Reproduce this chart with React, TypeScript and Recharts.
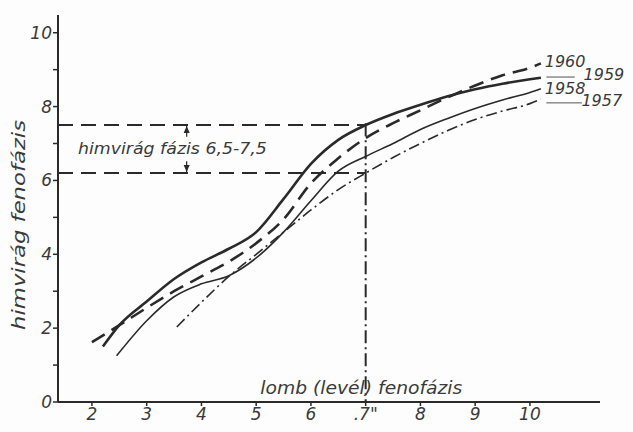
import React from 'react'
import { LineChart, Line, XAxis, YAxis, ReferenceLine, ReferenceDot } from 'recharts'

// tick values
const xTicks = [2, 3, 4, 5, 6, 7, 8, 9, 10]
const yTicks = [0, 1, 2, 3, 4, 5, 6, 7, 8, 9, 10]

// lomb (levél) fenofázis -> himvirág fenofázis, per year
const x1960 = [2.0, 2.5, 3.0, 3.5, 4.0, 4.5, 5.0, 5.5, 6.0, 6.5, 7.0, 7.5, 8.0, 8.5, 9.0, 9.5, 10.0, 10.2]
const y1960 = [1.62, 2.08, 2.55, 3.0, 3.4, 3.8, 4.3, 4.95, 5.92, 6.6, 7.15, 7.55, 7.9, 8.25, 8.57, 8.85, 9.05, 9.17]

const x1959 = [2.2, 2.5, 3.0, 3.5, 4.0, 4.5, 5.0, 5.5, 6.0, 6.5, 7.0, 7.5, 8.0, 8.5, 9.0, 9.5, 10.0, 10.2]
const y1959 = [1.5, 2.08, 2.72, 3.33, 3.78, 4.15, 4.6, 5.5, 6.45, 7.1, 7.5, 7.8, 8.05, 8.28, 8.47, 8.62, 8.74, 8.78]

const x1958 = [2.45, 3.0, 3.5, 4.0, 4.5, 5.0, 5.5, 6.0, 6.5, 7.0, 7.5, 8.0, 8.5, 9.0, 9.5, 10.0, 10.2]
const y1958 = [1.25, 2.2, 2.85, 3.2, 3.42, 3.9, 4.6, 5.45, 6.25, 6.65, 7.0, 7.38, 7.68, 7.95, 8.18, 8.38, 8.48]

const x1957 = [3.55, 4.0, 4.5, 5.0, 5.5, 6.0, 6.5, 7.0, 7.5, 8.0, 8.5, 9.0, 9.5, 10.0, 10.2]
const y1957 = [2.03, 2.7, 3.4, 4.0, 4.6, 5.2, 5.75, 6.2, 6.62, 7.0, 7.35, 7.65, 7.88, 8.08, 8.2]

// flowering phase band
const bandLow = 6.2
const bandHigh = 7.5
const leafPhase = 7

const pts = (xs: number[], ys: number[]) => xs.map((x, i) => ({ x, y: ys[i] }))

const ink = '#2a2a2a'
const font = '"DejaVu Sans", sans-serif'

const textDot = (
  key: string,
  x: number,
  y: number,
  text: string,
  size = 16,
  anchor = 'start',
  len?: number
) => (
  <ReferenceDot
    key={key}
    x={x}
    y={y}
    r={0}
    ifOverflow="visible"
    shape={(p: any) => (
      <text
        x={p.cx}
        y={p.cy}
        textAnchor={anchor}
        dominantBaseline="central"
        fontFamily={font}
        fontStyle="italic"
        fontSize={size}
        fill="#3a3a3a"
        textLength={len}
        lengthAdjust={len ? 'spacingAndGlyphs' : undefined}
      >
        {text}
      </text>
    )}
  />
)

const arrowHead = (key: string, x: number, y: number, up: boolean) => (
  <ReferenceDot
    key={key}
    x={x}
    y={y}
    r={0}
    ifOverflow="visible"
    shape={(p: any) => (
      <path
        d={up
          ? `M${p.cx},${p.cy + 1} L${p.cx - 3},${p.cy + 8} L${p.cx + 3},${p.cy + 8} Z`
          : `M${p.cx},${p.cy - 1} L${p.cx - 3},${p.cy - 8} L${p.cx + 3},${p.cy - 8} Z`}
        fill={ink}
      />
    )}
  />
)

const YLabel = () => {
  const cx = 18
  const cy = 225
  return (
    <text
      x={cx}
      y={cy}
      transform={`rotate(-90 ${cx} ${cy})`}
      textAnchor="middle"
      dominantBaseline="central"
      fontFamily={font}
      fontStyle="italic"
      fontSize={18}
      fill="#3a3a3a"
      textLength={210}
      lengthAdjust="spacingAndGlyphs"
    >
      himvirág fenofázis
    </text>
  )
}

const tickStyle = { fontFamily: font, fontStyle: 'italic', fontSize: 17, fill: '#3a3a3a' }

export default function App() {
  const arrowX = 3.73
  return (
    <div style={{ position: 'absolute', left: 0, top: 0, width: 633, height: 432, background: '#fdfdfd' }}>
      <LineChart width={633} height={432} margin={{ top: 15, right: 33, left: 0, bottom: 0 }}>
        <XAxis
          type="number"
          dataKey="x"
          domain={[1.38, 11.28]}
          ticks={xTicks}
          allowDataOverflow
          height={30}
          axisLine={{ stroke: ink, strokeWidth: 2 }}
          tickLine={{ stroke: ink, strokeWidth: 1.5 }}
          tickSize={4}
          tick={tickStyle}
          tickFormatter={(v: number) => (v === 7 ? '.7"' : String(v))}
        />
        <YAxis
          type="number"
          dataKey="y"
          domain={[0, 10.48]}
          ticks={yTicks}
          allowDataOverflow
          width={58}
          axisLine={{ stroke: ink, strokeWidth: 2 }}
          tickLine={{ stroke: ink, strokeWidth: 1.5 }}
          tickSize={5}
          tickMargin={1}
          tick={tickStyle}
          tickFormatter={(v: number) => (v % 2 === 0 ? String(v) : '')}
          label={<YLabel />}
        />

        <ReferenceLine
          segment={[{ x: 1.38, y: bandHigh }, { x: leafPhase, y: bandHigh }]}
          stroke={ink}
          strokeWidth={2}
          strokeDasharray="15 8"
          ifOverflow="visible"
        />
        <ReferenceLine
          segment={[{ x: 1.38, y: bandLow }, { x: leafPhase, y: bandLow }]}
          stroke={ink}
          strokeWidth={2}
          strokeDasharray="15 8"
          ifOverflow="visible"
        />
        <ReferenceLine
          segment={[{ x: leafPhase, y: bandHigh + 0.05 }, { x: leafPhase, y: 0 }]}
          stroke={ink}
          strokeWidth={2}
          strokeDasharray="13 4 2 4"
          ifOverflow="visible"
        />
        <ReferenceLine
          segment={[{ x: arrowX, y: bandHigh }, { x: arrowX, y: 7.18 }]}
          stroke={ink}
          strokeWidth={1.2}
        />
        <ReferenceLine
          segment={[{ x: arrowX, y: bandLow }, { x: arrowX, y: 6.52 }]}
          stroke={ink}
          strokeWidth={1.2}
        />
        {arrowHead('ahUp', arrowX, bandHigh, true)}
        {arrowHead('ahDown', arrowX, bandLow, false)}

        <Line
          data={pts(x1960, y1960)}
          dataKey="y"
          type="monotone"
          stroke={ink}
          strokeWidth={2.6}
          strokeDasharray="15 8"
          dot={false}
          isAnimationActive={false}
        />
        <Line
          data={pts(x1959, y1959)}
          dataKey="y"
          type="monotone"
          stroke={ink}
          strokeWidth={2.6}
          dot={false}
          isAnimationActive={false}
        />
        <Line
          data={pts(x1958, y1958)}
          dataKey="y"
          type="monotone"
          stroke={ink}
          strokeWidth={1.6}
          dot={false}
          isAnimationActive={false}
        />
        <Line
          data={pts(x1957, y1957)}
          dataKey="y"
          type="monotone"
          stroke={ink}
          strokeWidth={1.6}
          strokeDasharray="11 4 2 4"
          dot={false}
          isAnimationActive={false}
        />

        <ReferenceLine
          segment={[{ x: 10.3, y: 8.8 }, { x: 10.82, y: 8.8 }]}
          stroke="#555"
          strokeWidth={1}
        />
        <ReferenceLine
          segment={[{ x: 10.3, y: 8.1 }, { x: 10.95, y: 8.1 }]}
          stroke="#555"
          strokeWidth={1}
        />
        {textDot('t1960', 10.27, 9.22, '1960')}
        {textDot('t1959', 10.98, 8.86, '1959')}
        {textDot('t1958', 10.27, 8.5, '1958')}
        {textDot('t1957', 10.94, 8.16, '1957')}

        {textDot('band', 3.47, 6.85, 'himvirág fázis 6,5-7,5', 15, 'middle', 189)}
        {textDot('xlabel', 6.92, 0.38, 'lomb (levél) fenofázis', 17, 'middle', 202)}
      </LineChart>
    </div>
  )
}
